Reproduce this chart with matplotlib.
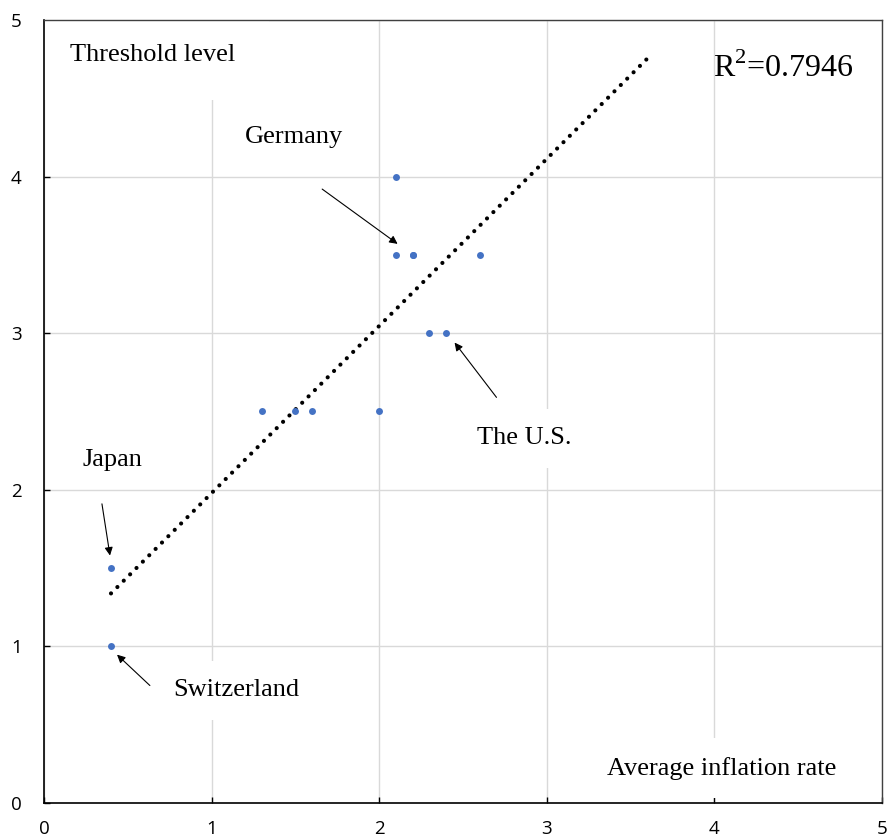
import numpy as np
import matplotlib
matplotlib.use("Agg")
import matplotlib.pyplot as plt

# Average inflation rate vs threshold level (one point per country)
inflation = [0.4, 0.4, 1.3, 1.5, 1.6, 2.0, 2.1, 2.1, 2.2, 2.2, 2.3, 2.4, 2.6]
threshold = [1.0, 1.5, 2.5, 2.5, 2.5, 2.5, 3.5, 4.0, 3.5, 3.5, 3.0, 3.0, 3.5]
r2_label = "0.7946"
trend_range = [0.4, 3.6]

ticks = [0, 1, 2, 3, 4, 5]

plt.rcParams['mathtext.fontset'] = 'custom'
plt.rcParams['mathtext.rm'] = 'Liberation Serif'

fig = plt.figure(figsize=(8.88, 8.38), dpi=100)
ax = fig.add_axes([0.0495, 0.0418, 0.9437, 0.9344])

ax.set_xlim(0, 5)
ax.set_ylim(0, 5)
ax.set_xticks(ticks)
ax.set_yticks(ticks)
ax.set_axisbelow(True)
ax.grid(True, color='#d9d9d9', lw=1)

for side in ['left', 'bottom']:
    ax.spines[side].set_color('black')
    ax.spines[side].set_linewidth(1.2)
for side in ['top', 'right']:
    ax.spines[side].set_color('#404040')
    ax.spines[side].set_linewidth(1.0)

ax.tick_params(direction='in', length=4, width=1, labelsize=13.5)
ax.tick_params(axis='y', pad=16)
ax.tick_params(axis='x', pad=12)
for lab in ax.get_xticklabels() + ax.get_yticklabels():
    lab.set_fontfamily('Open Sans')

# linear trend line
slope, icpt = np.polyfit(inflation, threshold, 1)
tx = np.array(trend_range)
ax.plot(tx, slope * tx + icpt, color='black', lw=3.0,
        linestyle=(0, (0.01, 2.15)), dash_capstyle='round', zorder=2.6)

ax.scatter(inflation, threshold, s=25, color='#4472C4', zorder=3, linewidths=0)

serif = 'Liberation Serif'
box = lambda p: dict(boxstyle='square,pad=%s' % p, facecolor='white', edgecolor='none')

ax.text(0.155, 4.776, 'Threshold level', fontsize=19, family=serif,
        va='center', ha='left', bbox=box(1.3), zorder=1)
ax.text(1.2, 4.25, 'Germany', fontsize=19, family=serif,
        va='center', ha='left', bbox=box(0.5), zorder=1)
ax.text(3.99, 4.693, 'R$^{2}$=' + r2_label, fontsize=23, family=serif,
        va='center', ha='left', zorder=1)
ax.text(0.227, 2.19, 'Japan', fontsize=19, family=serif,
        va='center', ha='left', bbox=box(0.5), zorder=1)
ax.text(2.583, 2.33, 'The U.S.', fontsize=19, family=serif,
        va='center', ha='left', bbox=box(0.7), zorder=1)
ax.text(0.77, 0.72, 'Switzerland', fontsize=19, family=serif,
        va='center', ha='left', bbox=box(0.7), zorder=1)
ax.text(3.36, 0.223, 'Average inflation rate', fontsize=19, family=serif,
        va='center', ha='left', bbox=box(0.7), zorder=1)

arrow = dict(arrowstyle='-|>', color='black', lw=0.8, mutation_scale=12,
             shrinkA=0, shrinkB=0)
ax.annotate('', xy=(2.11, 3.57), xytext=(1.66, 3.92), arrowprops=arrow, zorder=2)
ax.annotate('', xy=(2.45, 2.94), xytext=(2.70, 2.59), arrowprops=arrow, zorder=2)
ax.annotate('', xy=(0.394, 1.58), xytext=(0.346, 1.91), arrowprops=arrow, zorder=2)
ax.annotate('', xy=(0.436, 0.947), xytext=(0.632, 0.75), arrowprops=arrow, zorder=2)

fig.savefig('out.png', dpi=100)
